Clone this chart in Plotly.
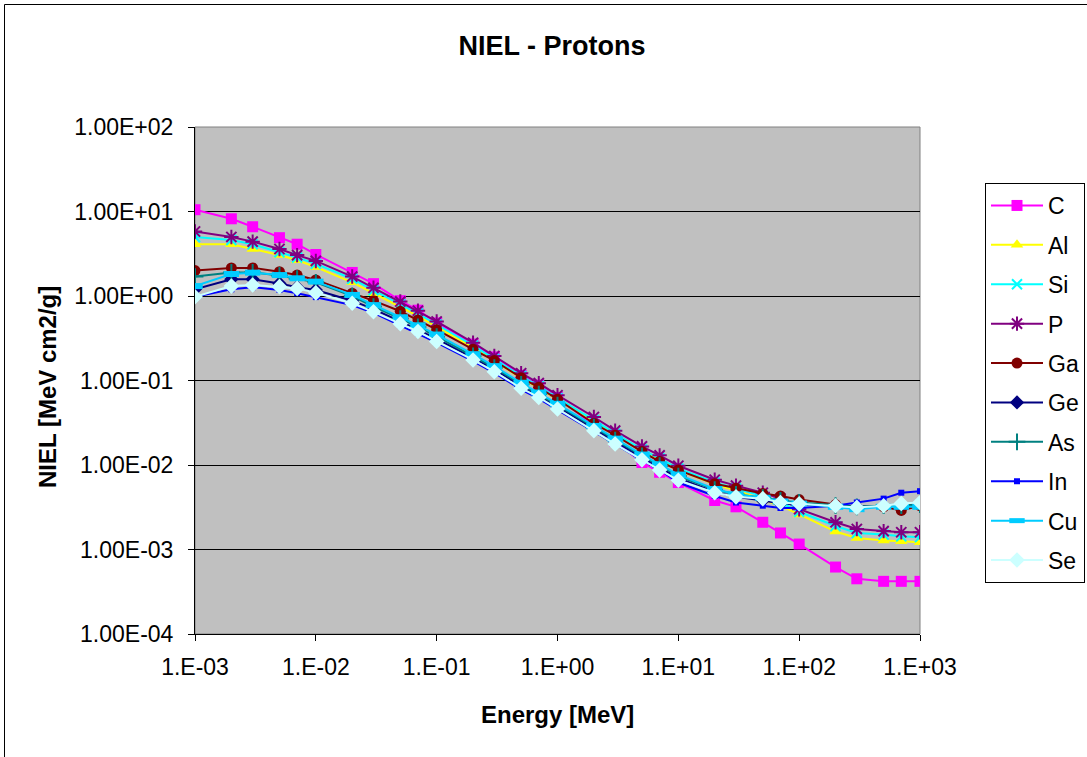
import plotly.graph_objects as go

# Energy grid [MeV]
energy = [1e-3, 2e-3, 3e-3, 5e-3, 7e-3,
          1e-2, 2e-2, 3e-2, 5e-2, 7e-2,
          1e-1, 2e-1, 3e-1, 5e-1, 7e-1,
          1, 2, 3, 5, 7,
          10, 20, 30, 50, 70,
          100, 200, 300, 500, 700,
          1000]

niel_C = [10.5, 8.2, 6.6, 4.9, 4.1, 3.1, 1.9, 1.4, 0.88, 0.68,
          0.48, 0.27, 0.19, 0.115, 0.088, 0.063, 0.030, 0.019, 0.0107, 0.0082,
          0.0062, 0.0038, 0.0032, 0.0021, 0.00157, 0.00116, 0.00062, 0.00045, 0.00042, 0.00042,
          0.00042]
niel_Al = [4.1, 4.1, 3.6, 3.05, 2.65, 2.2, 1.45, 1.08, 0.74, 0.58,
           0.43, 0.245, 0.17, 0.107, 0.082, 0.059, 0.033, 0.0225, 0.0147, 0.0114,
           0.0087, 0.0059, 0.0050, 0.0039, 0.0033, 0.0026, 0.00163, 0.00137, 0.00128, 0.00125,
           0.00122]
niel_Si = [5.0, 4.6, 4.1, 3.3, 2.85, 2.4, 1.6, 1.17, 0.80, 0.62,
           0.46, 0.26, 0.18, 0.113, 0.086, 0.062, 0.034, 0.0235, 0.0153, 0.012,
           0.0091, 0.0062, 0.0053, 0.0043, 0.0036, 0.0028, 0.0019, 0.00157, 0.0015, 0.00143,
           0.0014]
niel_P = [5.8, 5.0, 4.4, 3.6, 3.05, 2.6, 1.7, 1.25, 0.86, 0.67,
          0.50, 0.28, 0.195, 0.122, 0.093, 0.067, 0.037, 0.0255, 0.0166, 0.013,
          0.0098, 0.0067, 0.0057, 0.0047, 0.0040, 0.0030, 0.0021, 0.00175, 0.00165, 0.0016,
          0.0016]
niel_Ga = [2.0, 2.15, 2.15, 1.94, 1.77, 1.55, 1.08, 0.88, 0.66, 0.52,
           0.40, 0.234, 0.172, 0.108, 0.083, 0.060, 0.031, 0.0225, 0.0144, 0.011,
           0.0087, 0.0060, 0.0053, 0.0046, 0.0043, 0.0039, 0.0034, 0.0032, 0.0032, 0.0029,
           0.0033]
niel_Ge = [1.2, 1.58, 1.58, 1.41, 1.27, 1.18, 0.88, 0.70, 0.50, 0.40,
           0.31, 0.185, 0.135, 0.086, 0.066, 0.049, 0.027, 0.0188, 0.0122, 0.0094,
           0.0070, 0.0048, 0.0042, 0.0038, 0.0035, 0.0034, 0.0033, 0.0032, 0.0033, 0.0034,
           0.0035]
niel_As = [1.7, 1.9, 1.9, 1.75, 1.6, 1.45, 1.0, 0.75, 0.54, 0.43,
           0.33, 0.195, 0.142, 0.090, 0.069, 0.051, 0.028, 0.0197, 0.0128, 0.0098,
           0.0074, 0.0051, 0.0045, 0.0041, 0.0038, 0.0036, 0.0033, 0.0032, 0.0033, 0.0033,
           0.0034]
niel_In = [0.98, 1.2, 1.27, 1.18, 1.08, 0.97, 0.78, 0.63, 0.45, 0.36,
           0.28, 0.17, 0.123, 0.078, 0.061, 0.045, 0.025, 0.0175, 0.0114, 0.0088,
           0.0062, 0.0043, 0.0036, 0.0033, 0.0031, 0.0031, 0.0033, 0.0036, 0.0040, 0.0047,
           0.0049]
niel_Cu = [1.31, 1.82, 1.89, 1.77, 1.62, 1.48, 1.03, 0.78, 0.56, 0.45,
           0.35, 0.205, 0.148, 0.094, 0.072, 0.053, 0.029, 0.0205, 0.0133, 0.0102,
           0.0077, 0.0052, 0.0045, 0.0041, 0.0037, 0.0035, 0.0032, 0.0030, 0.0032, 0.0032,
           0.0032]
niel_Se = [0.98, 1.31, 1.35, 1.29, 1.23, 1.09, 0.82, 0.65, 0.47, 0.38,
           0.29, 0.175, 0.127, 0.081, 0.063, 0.046, 0.0255, 0.0177, 0.0115, 0.0087,
           0.0066, 0.0047, 0.0042, 0.0040, 0.0036, 0.00347, 0.0033, 0.00315, 0.0033, 0.0035,
           0.0036]

series_names = ["C", "Al", "Si", "P", "Ga", "Ge", "As", "In", "Cu", "Se"]
series_values = [niel_C, niel_Al, niel_Si, niel_P, niel_Ga, niel_Ge, niel_As, niel_In, niel_Cu, niel_Se]

x_tickvals = [1e-3, 1e-2, 1e-1, 1, 10, 100, 1000]
x_ticktext = ["1.E-03", "1.E-02", "1.E-01", "1.E+00", "1.E+01", "1.E+02", "1.E+03"]
y_tickvals = [1e-4, 1e-3, 1e-2, 1e-1, 1, 10, 100]
y_ticktext = ["1.00E-04", "1.00E-03", "1.00E-02", "1.00E-01", "1.00E+00", "1.00E+01", "1.00E+02"]

styles = {
    "C":  dict(color="#FF00FF", symbol="square", size=11, open=False),
    "Al": dict(color="#FFFF00", symbol="triangle-up", size=11, open=False),
    "Si": dict(color="#00FFFF", symbol="x-thin-open", size=10, open=True),
    "P":  dict(color="#800080", symbol="asterisk-open", size=12, open=True),
    "Ga": dict(color="#800000", symbol="circle", size=11, open=False),
    "Ge": dict(color="#000080", symbol="diamond", size=11, open=False),
    "As": dict(color="#008080", symbol="cross-thin-open", size=12, open=True),
    "In": dict(color="#0000FF", symbol="square", size=6, open=False),
    "Cu": dict(color="#00CCFF", symbol="line-ew-open", size=11, open=True, lw=6),
    "Se": dict(color="#CCFFFF", symbol="diamond", size=12, open=False),
}

FONT = "Arial, Liberation Sans, sans-serif"

fig = go.Figure()
for name, vals in zip(series_names, series_values):
    st = styles[name]
    if st["open"]:
        marker = dict(symbol=st["symbol"], size=st["size"],
                      line=dict(color=st["color"], width=st.get("lw", 2)))
    else:
        marker = dict(symbol=st["symbol"], size=st["size"], color=st["color"],
                      line=dict(width=0))
    fig.add_trace(go.Scatter(
        x=energy, y=vals, name=name, mode="lines+markers",
        line=dict(color=st["color"], width=2),
        marker=marker, legendgroup=name,
    ))

W, H = 1087, 757
L, R, T, B = 195, 920, 127, 634

def px_x(p):
    return (p - L) / (R - L)

def px_y(p):
    return (B - p) / (B - T)

fig.update_layout(
    width=W, height=H,
    margin=dict(l=L, r=W - R, t=T, b=H - B, autoexpand=False),
    paper_bgcolor="white",
    plot_bgcolor="#C0C0C0",
    font=dict(family=FONT, color="black", size=23),
    title=dict(text="<b>NIEL - Protons</b>", font=dict(size=27, family=FONT),
               xref="paper", x=px_x(552), xanchor="center",
               yref="container", y=1 - 46 / H, yanchor="middle"),
    showlegend=True,
    legend=dict(x=px_x(985), xanchor="left", y=px_y(183), yanchor="top",
                bgcolor="white", bordercolor="black", borderwidth=1,
                font=dict(size=23, family=FONT), tracegroupgap=6.5,
                itemwidth=52, traceorder="grouped"),
    xaxis=dict(type="log", range=[-3, 3], tickvals=x_tickvals, ticktext=x_ticktext,
               showgrid=False, zeroline=False, showline=True, linecolor="black",
               linewidth=1, ticks="outside", ticklen=6, tickcolor="black",
               ticklabelstandoff=6,
               tickfont=dict(size=23, family=FONT)),
    yaxis=dict(type="log", range=[-4, 2], tickvals=y_tickvals, ticktext=y_ticktext,
               showgrid=True, gridcolor="black", gridwidth=1, zeroline=False,
               showline=True, linecolor="black", linewidth=1, ticks="outside",
               ticklen=6, tickcolor="black", ticklabelstandoff=10,
               tickfont=dict(size=23, family=FONT)),
    shapes=[
        dict(type="rect", xref="paper", yref="paper", x0=0, x1=1, y0=0, y1=1,
             line=dict(color="#808080", width=1), layer="below"),
        dict(type="rect", xref="paper", yref="paper",
             x0=px_x(4.5), x1=px_x(1120), y0=px_y(4.5), y1=px_y(790),
             line=dict(color="black", width=1), layer="below"),
    ],
    annotations=[
        dict(text="<b>NIEL [MeV cm2/g]</b>", xref="paper", yref="paper",
             x=px_x(47), y=px_y(387), textangle=-90, showarrow=False,
             font=dict(size=24, family=FONT), xanchor="center", yanchor="middle"),
        dict(text="<b>Energy [MeV]</b>", xref="paper", yref="paper",
             x=px_x(557), y=px_y(714), showarrow=False,
             font=dict(size=24, family=FONT), xanchor="center", yanchor="middle"),
    ],
)

fig.write_html("out.html", config={"displayModeBar": False},
               post_script="document.body.style.margin='0px';")
